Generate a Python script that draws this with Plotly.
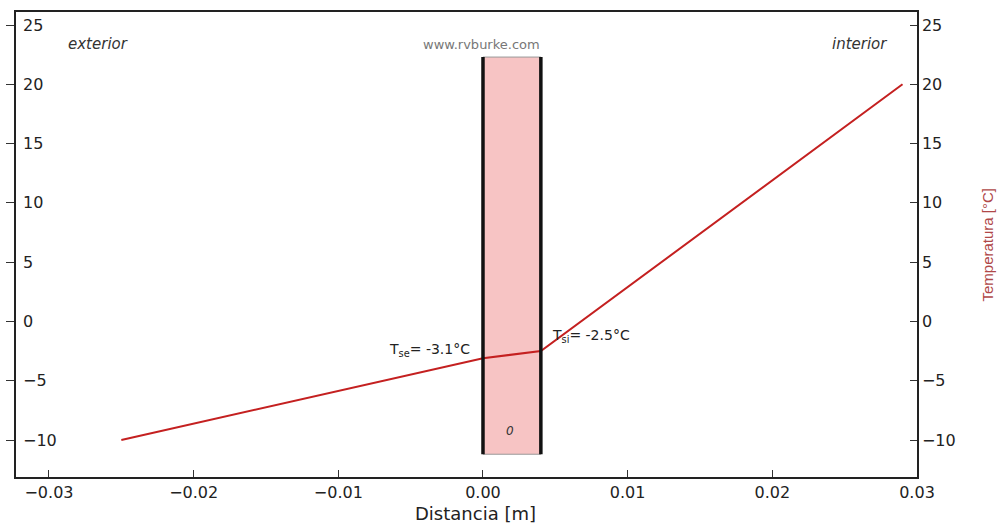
import plotly.graph_objects as go

# ---- data ----
dist_m = [-0.025, 0.0, 0.004, 0.029]
temp_c = [-10.0, -3.1, -2.5, 20.0]

wall_x = [0.0, 0.004]
wall_y = [-11.2, 22.3]

x_ticks = [-0.03, -0.02, -0.01, 0.0, 0.01, 0.02, 0.03]
y_ticks = [-10, -5, 0, 5, 10, 15, 20, 25]
x_range = [-0.03228, 0.03]
y_range = [-13.12, 26.1]

FONT = "DejaVu Sans"
LINE_RED = "#c42020"


def fmt_num(v, dec=0):
    s = f"{abs(v):.{dec}f}"
    return ("\u2212" if v < 0 else "") + s


fig = go.Figure()

# wall fill
fig.add_shape(type="rect", xref="x", yref="y",
              x0=wall_x[0], x1=wall_x[1], y0=wall_y[0], y1=wall_y[1],
              fillcolor="#f7c4c4", line=dict(color="#9a9a9a", width=1), layer="below")
# wall borders
for wx in wall_x:
    fig.add_shape(type="line", xref="x", yref="y",
                  x0=wx, x1=wx, y0=wall_y[0], y1=wall_y[1],
                  line=dict(color="#111111", width=3.5))

fig.add_trace(go.Scatter(x=dist_m, y=temp_c, mode="lines",
                         line=dict(color=LINE_RED, width=2),
                         showlegend=False, hoverinfo="skip"))
# invisible trace to attach the left axis
fig.add_trace(go.Scatter(x=[0], y=[0], yaxis="y2", mode="markers", marker=dict(opacity=0),
                         showlegend=False, hoverinfo="skip"))

tick_font = dict(family=FONT, size=16, color="#222222")

fig.update_layout(
    width=1007, height=527,
    margin=dict(l=16, r=90, t=12, b=50),
    paper_bgcolor="white", plot_bgcolor="white",
    xaxis=dict(range=x_range, tickvals=x_ticks,
               ticktext=[fmt_num(v, 2) for v in x_ticks],
               ticks="inside", ticklen=7, tickcolor="#333",
               showline=True, linecolor="#222", linewidth=1.5, mirror=True,
               showgrid=False, zeroline=False, tickfont=tick_font, automargin=False),
    yaxis=dict(range=y_range, tickvals=y_ticks,
               ticktext=[fmt_num(v) for v in y_ticks],
               side="right", ticks="inside", ticklen=7, tickcolor="#333",
               showline=True, linecolor="#222", linewidth=1.5, mirror=True,
               showgrid=False, zeroline=False, tickfont=tick_font, automargin=False),
    yaxis2=dict(range=y_range, overlaying="y", side="left", tickvals=y_ticks,
                ticks="outside", ticklen=8, tickcolor="#333", showticklabels=False,
                showline=True, linecolor="#222", linewidth=1.5,
                showgrid=False, zeroline=False, automargin=False),
)

# x-axis title placed below the tick labels
fig.add_annotation(xref="paper", yref="paper", x=0.51, y=0, yshift=-36,
                   xanchor="center", yanchor="middle", showarrow=False,
                   text="Distancia [m]", font=dict(family=FONT, size=18, color="#222"))
# right y-axis title
fig.add_annotation(xref="paper", yref="paper", x=1, y=0.5, xshift=70,
                   xanchor="center", yanchor="middle", showarrow=False, textangle=-90,
                   text="Temperatura [°C]",
                   font=dict(family="Liberation Sans", size=15, color="#b04848"))

# left-axis tick labels drawn inside the frame
for v in y_ticks:
    fig.add_annotation(xref="paper", yref="y", x=0, y=v, text=fmt_num(v),
                       xanchor="left", yanchor="middle", xshift=5, showarrow=False,
                       font=tick_font)

ann_font = dict(family=FONT, size=14, color="#222")
fig.add_annotation(x=-0.0266, y=23.4, text="<i>exterior</i>", showarrow=False,
                   font=dict(family=FONT, size=15, color="#333"))
fig.add_annotation(x=0.02605, y=23.4, text="<i>interior</i>", showarrow=False,
                   font=dict(family=FONT, size=15, color="#333"))
fig.add_annotation(x=-0.0001, y=23.4, text="www.rvburke.com", showarrow=False,
                   font=dict(family=FONT, size=13, color="#777"))
fig.add_annotation(x=-0.00076, y=-2.45, text="T<sub>se</sub>= -3.1°C", showarrow=False,
                   xanchor="right", font=ann_font)
fig.add_annotation(x=0.00463, y=-1.25, text="T<sub>si</sub>= -2.5°C", showarrow=False,
                   xanchor="left", font=ann_font)
fig.add_annotation(x=0.0019, y=-9.2, text="<i>0</i>", showarrow=False,
                   font=dict(family=FONT, size=12, color="#333"))

fig.write_html("out.html")
